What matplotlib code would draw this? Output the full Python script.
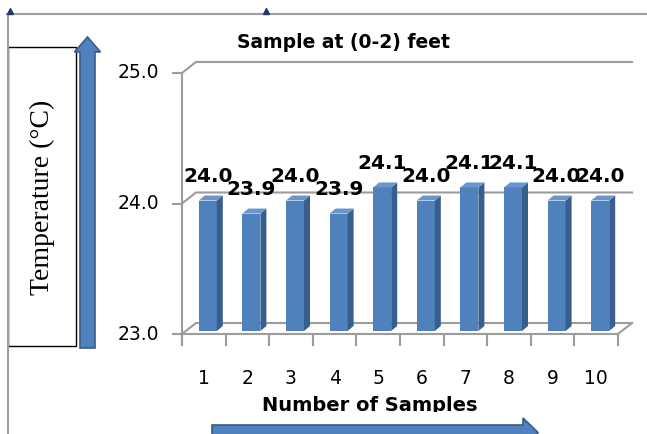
import matplotlib.pyplot as plt
from matplotlib.patches import Polygon, Rectangle, FancyArrow

samples = ['1', '2', '3', '4', '5', '6', '7', '8', '9', '10']
temps = [24.0, 23.9, 24.0, 23.9, 24.1, 24.0, 24.1, 24.1, 24.0, 24.0]
y_ticks = [23.0, 24.0, 25.0]

W, H = 647, 434
grid_color = '#9c9c9c'
bar_front = '#4f81bd'
bar_side = '#385e8c'
bar_top = '#6a96cc'
arrow_face = '#4f81bd'
arrow_edge = '#385d8a'

fig = plt.figure(figsize=(W / 100, H / 100), dpi=100)

# pixel-unit layer for the frame, axis-title box and arrows
deco = fig.add_axes([0, 0, 1, 1])
deco.set_xlim(0, W)
deco.set_ylim(H, 0)
deco.axis('off')

ax = fig.add_axes([182 / W, 1 - 334 / H, 436 / W, 261 / H])
ax.set_xlim(-0.5, len(samples) - 0.5)
ax.set_ylim(y_ticks[0], y_ticks[-1])
ax.axis('off')
ax.patch.set_alpha(0)

# data units per pixel, used for the fake 3d depth
kx = (len(samples)) / ax.bbox.width
ky = (y_ticks[-1] - y_ticks[0]) / ax.bbox.height
x0, x1 = -0.5, len(samples) - 0.5
base = y_ticks[0]

# walls: back wall gridlines + floor
wx, wy = 14 * kx, 11 * ky
for t in y_ticks:
    ax.plot([x0, x0 + wx, x1 + wx], [t, t + wy, t + wy], color=grid_color, lw=1.5,
            clip_on=False, zorder=1)
    ax.plot([x0 - 9 * kx, x0], [t, t], color=grid_color, lw=1.5, clip_on=False, zorder=1)
    ax.text(x0 - 23 * kx, t, f'{t:.1f}', ha='right', va='center', fontsize=13.5)
ax.plot([x0, x1, x1 + wx], [base, base, base + wy], color=grid_color, lw=1.5,
        clip_on=False, zorder=1)
ax.plot([x0, x0], [base - 11 * ky, y_ticks[-1]], color=grid_color, lw=1.5,
        clip_on=False, zorder=1)
for i in range(len(samples) + 1):
    ax.plot([i - 0.5, i - 0.5], [base, base - 11 * ky], color=grid_color, lw=1.5,
            clip_on=False, zorder=1)
for i, s in enumerate(samples):
    ax.text(i, base - 44 * ky, s, ha='center', va='center', fontsize=13.5)

# bars with side and top faces
ox, oy = 4 * kx, 3 * ky
dx, dy = 6 * kx, 5 * ky
bw = 18 * kx
xs = [i + ox for i in range(len(samples))]
ax.bar(xs, [v - base for v in temps], bottom=base + oy, width=bw, color=bar_front,
       clip_on=False, zorder=2)
for i, v in enumerate(temps):
    xl = xs[i] - bw / 2
    xr = xs[i] + bw / 2
    top = v + oy
    bot = base + oy
    ax.add_patch(Polygon([(xr, bot), (xr + dx, bot + dy), (xr + dx, top + dy), (xr, top)],
                         closed=True, fc=bar_side, ec='none', clip_on=False, zorder=2))
    ax.add_patch(Polygon([(xl, top), (xl + dx, top + dy), (xr + dx, top + dy), (xr, top)],
                         closed=True, fc=bar_top, ec='none', clip_on=False, zorder=2))
    ax.text(xs[i], top + 18.5 * ky, f'{v:.1f}', ha='center', va='baseline',
            fontsize=14.5, fontweight='bold', zorder=4)

# outer frame
deco.plot([7, W], [14, 14], color='#a0a0a0', lw=1.5)
deco.plot([7.5, 7.5], [14, H], color='#a0a0a0', lw=1.5)
deco.plot([10, 266], [11, 11], ls='none', marker='^', ms=4, color='#1f3864')

# y axis title in its box with the upward arrow
deco.add_patch(Rectangle((8, 47), 68, 299, fill=False, ec='black', lw=1))
deco.text(42, 197, 'Temperature (°C)', rotation=90, family='Liberation Serif',
          fontsize=20, ha='center', va='center')
deco.add_patch(FancyArrow(87.5, 348, 0, -311, width=15, head_width=26, head_length=15,
                          length_includes_head=True, fc=arrow_face, ec=arrow_edge, lw=1.2))

deco.text(343.5, 42, 'Sample at (0-2) feet', fontsize=13.5, fontweight='bold',
          ha='center', va='center')

# x axis title, its lower edge hidden behind the arrow strip
deco.text(370, 396, 'Number of Samples', fontsize=14, fontweight='bold',
          ha='center', va='top')
deco.add_patch(Rectangle((200, 412), 360, 8, fc='white', ec='none', zorder=5))
deco.add_patch(FancyArrow(212, 432.5, 326, 0, width=15, head_width=29, head_length=15,
                          length_includes_head=True, fc=arrow_face, ec=arrow_edge, lw=1.2,
                          zorder=6, clip_on=False))

fig.savefig('out.png', dpi=100)
